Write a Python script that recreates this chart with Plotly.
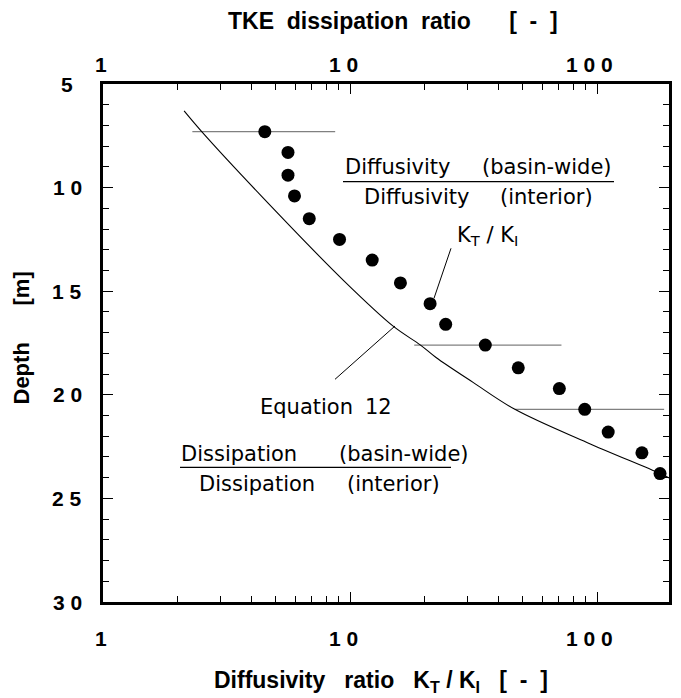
import math
import plotly.graph_objects as go

# ---- data ----
depth = [7.3, 8.3, 9.4, 10.4, 11.5, 12.5, 13.5, 14.6, 15.6, 16.6, 17.6, 18.7, 19.7, 20.7, 21.8, 22.8, 23.8]
ratio = [4.52, 5.61, 5.61, 5.96, 6.84, 9.07, 12.3, 16.0, 21.1, 24.4, 35.3, 48.0, 70.4, 89.2, 111, 152, 180]

err_depth = [7.3, 17.6, 20.7]
err_lo = [2.30, 18.2, 46.5]
err_hi = [8.71, 71.8, 187]

eq_depth = [6.3, 7.3, 10.4, 14.5, 16.7, 17.6, 18.2, 19.4, 20.7, 22.3, 23.8, 24.1]
eq_ratio = [2.13, 2.51, 4.37, 9.45, 15.0, 19.3, 22.3, 31.5, 46.5, 91, 180, 203]

x_tickvals = [1, 10, 100]
x_ticktext = ["1", "1 0", "1 0 0"]
x_label_shift = [-2, -7, -8]
x_minor = [2, 3, 4, 5, 6, 7, 8, 9, 20, 30, 40, 50, 60, 70, 80, 90, 200]
y_tickvals = [5, 10, 15, 20, 25, 30]
y_ticktext = ["5", "1 0", "1 5", "2 0", "2 5", "3 0"]
y_minor = list(range(5, 31))

# page offset of the figure (default body margin of the html page)
OFF = 8
W, H = 681 - 2 * OFF, 698 - OFF
L, R, T = 103 - OFF, 4, 84 - OFF
B = H - (602 - OFF)
PW, PH = W - L - R, H - T - B


def px(x):
    """page pixel x -> paper fraction"""
    return (x - OFF - L) / PW


def py(y):
    """page pixel y -> paper fraction"""
    return (H - B - (y - OFF)) / PH


FONT = "Liberation Sans, Arial, sans-serif"
TFONT = "DejaVu Sans, sans-serif"
NB = "\u00a0"

fig = go.Figure()

# error bars
ex, ey = [], []
for d, lo, hi in zip(err_depth, err_lo, err_hi):
    ex += [lo, hi, None]
    ey += [d, d, None]
fig.add_trace(go.Scatter(x=ex, y=ey, mode="lines",
                         line=dict(color="#808080", width=1.2),
                         hoverinfo="skip", showlegend=False))

# equation 12 curve
fig.add_trace(go.Scatter(x=eq_ratio, y=eq_depth, mode="lines",
                         line=dict(color="black", width=1.1, shape="spline", smoothing=1.0),
                         showlegend=False))

# data points
fig.add_trace(go.Scatter(x=ratio, y=depth, mode="markers",
                         marker=dict(color="black", size=13),
                         showlegend=False))

xmax = PW / 247.0

fig.update_layout(
    width=W, height=H,
    margin=dict(l=L, r=R, t=T, b=B, pad=0, autoexpand=False),
    paper_bgcolor="white", plot_bgcolor="white",
    xaxis=dict(type="log", range=[0, xmax], showgrid=False, zeroline=False, automargin=False,
               showline=True, mirror="allticks", linecolor="black", linewidth=3, showticklabels=False,
               ticks="inside", ticklen=10, tickwidth=1.3, tickcolor="black",
               tickvals=x_tickvals,
               minor=dict(tickvals=x_minor, ticks="inside", ticklen=6, tickwidth=1, tickcolor="black")),
    yaxis=dict(range=[30, 5], showgrid=False, zeroline=False, automargin=False,
               showline=True, mirror="allticks", linecolor="black", linewidth=3, showticklabels=False,
               ticks="inside", ticklen=10, tickwidth=1.3, tickcolor="black",
               tickvals=y_tickvals,
               minor=dict(tickvals=y_minor, ticks="inside", ticklen=6, tickwidth=1, tickcolor="black")),
    showlegend=False,
)

tickfont = dict(family=FONT, size=21, color="black", weight="bold")
# x tick labels (bottom and top)
for v, t, s in zip(x_tickvals, x_ticktext, x_label_shift):
    fig.add_annotation(text=t, xref="x", yref="paper", x=math.log10(v), y=py(638),
                       xanchor="center", yanchor="middle", xshift=s, showarrow=False, font=tickfont)
    fig.add_annotation(text=t, xref="x", yref="paper", x=math.log10(v), y=py(65),
                       xanchor="center", yanchor="middle", xshift=s, showarrow=False, font=tickfont)
# y tick labels
for v, t in zip(y_tickvals, y_ticktext):
    fig.add_annotation(text=t, xref="paper", yref="y", x=px(67), y=v,
                       xanchor="center", yanchor="middle", showarrow=False, font=tickfont)

titlefont = dict(family=FONT, size=23, color="black", weight="bold")
fig.add_annotation(text="TKE" + NB * 2 + "dissipation" + NB * 2 + "ratio" + NB * 6 + "[" + NB * 2 + "-" + NB * 2 + "]",
                   xref="paper", yref="paper", x=px(226), y=py(21), xanchor="left", yanchor="middle",
                   showarrow=False, font=titlefont)
fig.add_annotation(text="Diffusivity" + NB * 3 + "ratio" + NB * 3 + "K<sub>T</sub> / K<sub>I</sub>" + NB * 3
                   + "[" + NB * 2 + "-" + NB * 2 + "]",
                   xref="paper", yref="paper", x=px(212), y=py(681), xanchor="left", yanchor="middle",
                   showarrow=False, font=titlefont)
fig.add_annotation(text="Depth" + NB * 6 + "[m]", textangle=-90,
                   xref="paper", yref="paper", x=px(21), y=py(338.5), xanchor="center", yanchor="middle",
                   showarrow=False, font=dict(family=FONT, size=22, color="black", weight="bold"))

tf = dict(family=TFONT, size=21, color="black")
words = [
    ("Diffusivity", 343, 166.7), ("(basin-wide)", 480, 166.7),
    ("Diffusivity", 361.7, 196.7), ("(interior)", 498.3, 196.7),
    ("K<sub>T</sub> / K<sub>I</sub>", 455, 236),
    ("Equation", 258.3, 407.3), ("12", 363, 407.3),
    ("Dissipation", 179.3, 454), ("(basin-wide)", 336.7, 454),
    ("Dissipation", 197.3, 484), ("(interior)", 345, 484),
]
for text, x, y in words:
    fig.add_annotation(text=text, xref="paper", yref="paper", x=px(x), y=py(y),
                       xanchor="left", yanchor="middle", showarrow=False, font=tf)

segs = [
    (343, 181.7, 614, 181.7, 1.3),   # fraction line diffusivity
    (180, 467.3, 451, 467.3, 1.3),   # fraction line dissipation
    (451, 248.3, 434, 298.3, 1.0),   # K leader
    (335, 379.3, 395, 326, 1.0),     # equation leader
]
for x0, y0, x1, y1, w in segs:
    fig.add_shape(type="line", xref="paper", yref="paper",
                  x0=px(x0), y0=py(y0), x1=px(x1), y1=py(y1),
                  line=dict(color="black", width=w))

fig.write_html("out.html")
